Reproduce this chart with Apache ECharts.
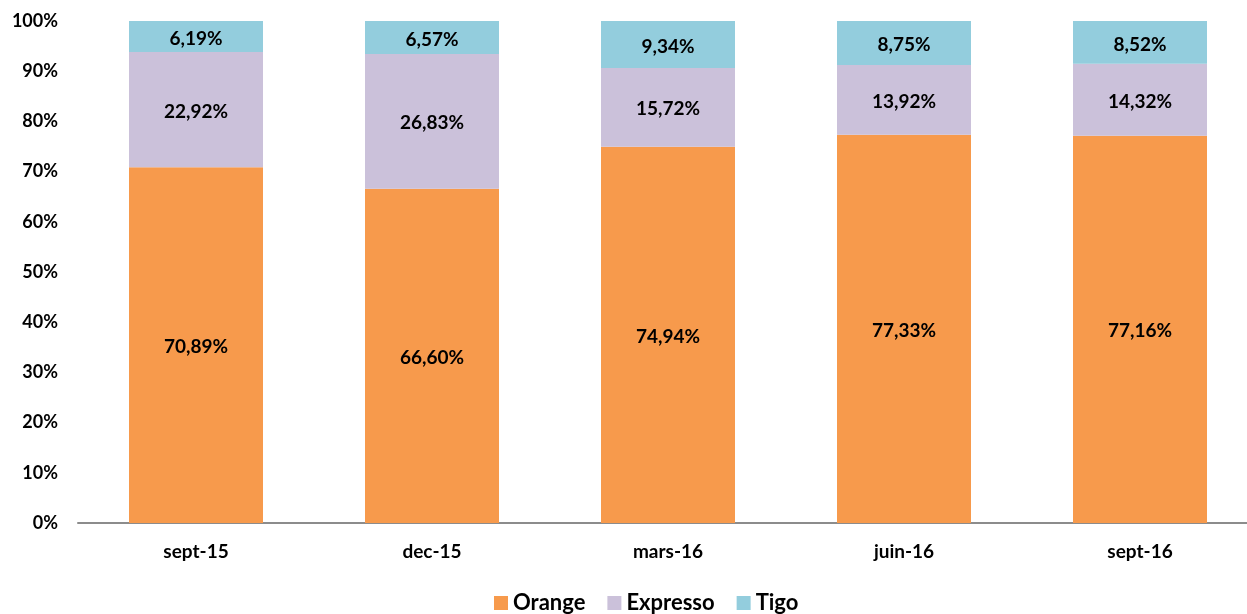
<!DOCTYPE html>
<html>
<head>
<meta charset="utf-8">
<script src="https://cdn.jsdelivr.net/npm/echarts@6/dist/echarts.min.js"></script>
<style>
  html, body { margin: 0; padding: 0; background: #fff; }
  #chart { width: 1247px; height: 614px; }
</style>
</head>
<body>
<div id="chart"></div>
<script>
const categories = ['sept-15', 'dec-15', 'mars-16', 'juin-16', 'sept-16']
const orange = [70.89, 66.60, 74.94, 77.33, 77.16]
const expresso = [22.92, 26.83, 15.72, 13.92, 14.32]
const tigo = [6.19, 6.57, 9.34, 8.75, 8.52]

const font = 'Lato, "Open Sans", sans-serif'
const fmt = p => p.value.toFixed(2).replace('.', ',') + '%'

function makeSeries(name, data, color) {
  return {
    name: name,
    type: 'bar',
    stack: 'total',
    data: data,
    barWidth: 134,
    itemStyle: { color: color },
    label: {
      show: true,
      position: 'inside',
      offset: [0, 2],
      formatter: fmt,
      color: '#000',
      fontWeight: 'bold',
      fontSize: 19,
      fontFamily: font
    }
  }
}

const chart = echarts.init(document.getElementById('chart'))
chart.setOption({
  animation: false,
  // la grille depasse a droite, comme dans l'original
  grid: { left: 78, width: 1180, top: 21, bottom: 91, outerBoundsMode: 'none', containLabel: false },
  legend: {
    bottom: -5,
    left: 489,
    itemWidth: 14,
    itemHeight: 14,
    itemGap: 22,
    icon: 'rect',
    textStyle: { color: '#000', fontWeight: 'bold', fontSize: 22, fontFamily: font }
  },
  xAxis: {
    type: 'category',
    data: categories,
    axisLine: { lineStyle: { color: '#8c8c8c', width: 2 } },
    axisTick: { show: false },
    axisLabel: { color: '#000', fontWeight: 'bold', fontSize: 19, fontFamily: font, margin: 19 }
  },
  yAxis: {
    type: 'value',
    min: 0,
    max: 100,
    interval: 10,
    splitLine: { show: false },
    axisLine: { show: false },
    axisTick: { show: false },
    axisLabel: {
      formatter: '{value}%',
      color: '#000',
      fontWeight: 'bold',
      fontSize: 18,
      fontFamily: font,
      margin: 20
    }
  },
  series: [
    makeSeries('Orange', orange, '#f79a4c'),
    makeSeries('Expresso', expresso, '#cbc1da'),
    makeSeries('Tigo', tigo, '#93cddd')
  ]
})
</script>
</body>
</html>
